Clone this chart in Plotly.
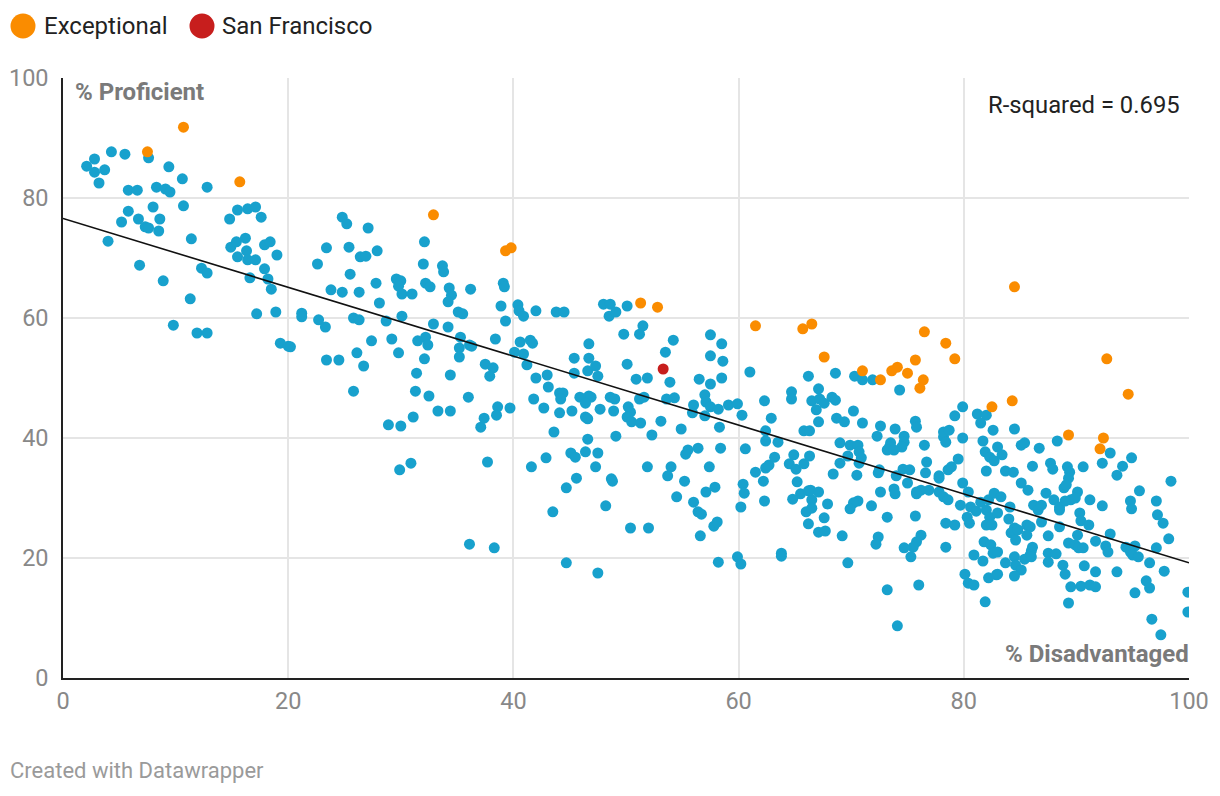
import plotly.graph_objects as go

# ---- data ----
blue_points = [
    (2.1,85.3),(2.8,86.5),(2.8,84.3),(3.7,84.7),(3.2,82.5),(4.3,87.7),(5.5,87.3),(7.6,86.7),(9.4,85.2),(10.6,83.2),
    (5.8,81.3),(6.6,81.3),(8.3,81.8),(9.1,81.5),(9.5,81),(12.8,81.8),(8.0,78.5),(10.7,78.7),(5.8,77.8),(5.2,76),
    (6.7,76.5),(8.6,76.5),(7.3,75.2),(7.6,75),(8.5,74.5),(4.0,72.8),(11.4,73.2),(6.8,68.8),(8.9,66.2),(12.3,68.3),
    (12.8,67.5),(11.3,63.2),(9.8,58.8),(11.9,57.5),(12.8,57.5),(14.8,76.5),(15.5,78),(16.4,78.2),(16.2,73.3),(14.9,71.8),
    (15.4,72.7),(15.5,70.2),(16.3,71.2),(16.4,69.7),(16.6,66.7),
    (17.1,78.5),(17.6,76.8),(17.9,72.2),(18.4,72.7),(19.0,70.5),(17.1,69.7),(17.9,68.2),(18.2,66.5),(18.5,64.8),(17.2,60.7),
    (18.9,61),(19.3,55.8),(20.0,55.3),(20.2,55.2),(21.2,60.8),(21.2,60.2),(22.7,59.7),(23.3,58.5),(22.6,69),(23.4,71.7),
    (24.8,76.8),(25.2,75.7),(27.1,75),(25.4,71.8),(26.4,70.2),(26.9,70.3),(27.9,71.2),(25.5,67.3),(23.8,64.7),(24.8,64.3),
    (26.3,64.3),(27.8,65.8),(28.1,62.5),(29.6,66.5),(30.0,66.2),(29.8,65.3),(30.1,64),(31.0,64),(32.1,72.7),(32.0,69),
    (32.2,65.8),(32.6,65.2),(25.8,60),(26.3,59.7),(28.7,59.5),(30.1,60.3),(32.9,59),(32.2,56.8),(31.5,56.2),(32.4,55.5),
    (29.2,56.5),(29.8,54.2),(27.4,56.2),(26.1,54.2),(26.7,52),(23.4,53),(24.5,53),(32.1,53.2),(31.4,50.8),(25.8,47.8),
    (31.3,47.8),(32.5,47),(33.3,44.5),(31.1,43.5),(28.9,42.2),(30.0,42),(29.9,34.7),(30.9,35.8),
    (33.7,68.7),(33.8,67.7),
    (34.3,65),(34.5,63.8),(34.2,62.7),(36.2,64.8),(39.1,65.8),(39.2,65.2),(38.9,62),(40.4,62.2),(40.5,61.2),(40.9,60.3),
    (42.0,61.2),(43.8,61),(44.5,61),(48.0,62.3),(48.6,62.3),(48.5,60.3),(49.1,61),(35.1,61),(35.5,60.7),(39.3,59.5),
    (34.2,58.5),(35.3,56.8),(36.1,55.5),(36.3,55.3),(35.2,55),(35.2,53.5),(38.4,56.5),(40.6,56),(41.5,56.3),(41.7,55.8),
    (40.1,54.3),(40.9,54),(41.2,52.2),(37.5,52.3),(38.2,51.7),(37.9,50.3),(34.4,50.5),(42.0,50),(43.0,50.5),(43.1,48.5),
    (45.4,53.3),(46.7,55.7),(46.7,53.3),(45.4,50.8),(46.6,51.2),(47.3,52),(47.5,50.3),(36.0,46.8),(38.6,45.2),(38.5,43.8),
    (39.7,45),(37.4,43.3),(37.1,41.8),(34.4,44.5),(41.8,46.5),(42.7,45),(44.1,47.5),(44.4,47.5),(44.2,46.5),(44.1,44.2),
    (45.2,44.5),(45.9,46.8),(46.7,47),(46.9,46.8),(46.4,45.8),(47.7,44.8),(46.4,43.5),(46.6,43.2),(48.6,46.8),(49.0,46.5),
    (48.9,44.5),(43.6,41),(46.6,39.8),(49.1,40.3),(37.7,36),(41.6,35.2),(42.9,36.7),(45.1,37.5),(45.5,36.8),(46.4,37.7),
    (47.5,37.5),(47.3,35.2),(45.6,33.3),(44.7,31.7),(48.7,33.2),(48.8,32.8),(43.5,27.7),(48.2,28.7),(36.1,22.3),(38.3,21.7),
    (44.7,19.2),(47.5,17.5),
    (50.1,62),(51.5,58.7),(49.8,57.3),(51.2,57.3),(54.2,56.3),(53.5,54.3),(50.1,52.3),(50.9,49.8),(51.9,50),(53.9,49.3),
    (51.2,46.5),(51.6,46.8),(53.6,46.5),(54.3,46.7),(50.2,45.2),(50.4,44.3),(50.1,43.5),(50.5,42.7),(51.3,42.5),(53.1,42.8),
    (52.3,40.5),(54.9,41.5),(57.5,57.2),(58.5,55.7),(57.5,53.7),(58.6,52.8),(56.5,49.8),(57.5,49),(58.5,50),(57.0,47.2),
    (57.1,46),(57.5,45.2),(58.2,44.8),(56.0,45.5),(55.9,44.2),(57.0,43.7),(59.1,45.5),(59.9,45.7),(60.3,43.8),(58.3,41.8),
    (61.0,51),(62.3,46.2),(62.9,43.3),(62.4,41.2),(62.4,39.5),(63.5,39.3),(64.7,47.7),(64.7,46.5),(66.2,50.3),(65.8,41.2),
    (66.3,41.2),(66.5,46.2),(55.5,38),(55.3,37.3),(56.4,38.3),(58.4,38.3),(60.6,38.2),(51.9,35.2),(54.0,35.2),(53.7,33.7),
    (55.2,32.8),(57.4,35.2),(54.5,30.2),(57.1,31),(57.9,31.8),(56.0,29.3),(56.4,27.7),(56.7,27.3),(57.8,25.3),(58.1,26),
    (56.6,23.7),(50.4,25),(52.0,25),(60.4,32.3),(60.5,30.8),(60.2,28.5),(61.5,34.3),(62.2,32.8),(62.4,35),(62.7,35.5),
    (63.2,36.8),(62.3,29.5),(64.5,35.7),(65.1,34.8),(64.9,37.2),(65.8,35.7),(65.2,32.7),(65.5,30.7),(66.2,31.2),(64.8,29.8),
    (66.0,27.7),(66.2,25.7),(58.2,19.3),(59.9,20.2),(60.2,19),(63.8,20.8),(63.8,20.3),(66.3,37),(66.5,29.7),(66.5,28.3),
    (68.6,50.8),(70.3,50.3),(71.0,49.7),(71.9,49.7),(74.3,48),(67.1,48.2),(67.2,46.5),(67.6,45.8),(66.9,44.7),(68.3,46.8),
    (68.6,46.3),(70.2,44.5),(68.7,43.3),(69.4,42.7),(67.1,42.7),(71.0,42.5),(72.6,42),(73.9,41.5),(72.3,40.3),(74.7,40.3),
    (74.7,39.3),(74.5,38.5),(75.7,42.8),(75.8,41.8),(73.5,39.2),(73.4,38.5),(73.2,38),(73.8,38),(76.5,38.8),(69.0,39.2),
    (69.9,38.8),(70.6,38.8),(70.7,37.7),(70.9,36.7),(70.7,35.8),(69.7,37),(69.0,35.8),(68.4,34),(70.5,33.8),(72.4,34.2),
    (72.5,34.7),(74.0,33.7),(74.6,34.8),(75.2,34.7),(75.0,32.5),(76.7,36),(76.6,34.2),(77.8,33.7),(77.8,33.3),(78.2,40.2),
    (78.2,41),(78.4,39.3),(78.7,41.3),(79.2,43.7),(79.9,45.2),(79.9,40),(78.6,34.7),(78.9,35.2),(79.5,36.5),(79.9,32.5),
    (81.2,44),(82.0,43.8),(81.5,42.5),(82.6,41.3),(81.7,39.5),(81.9,37.7),(82.3,36.8),(82.7,36.2),(82.0,34.5),(66.4,31.3),
    (67.1,31),(67.9,29),(67.6,26.7),(67.1,24.3),(67.7,24.5),(69.2,23.7),(69.7,19.2),(70.6,29.5),(70.2,29.2),(69.9,28.2),
    (71.8,28.7),(72.6,31),(73.8,31.5),(73.9,30.7),(73.2,26.8),(72.4,23.5),(72.2,22.3),(75.7,27),(73.2,14.7),(74.1,8.7),
    (75.8,31),(76.2,31.3),(76.9,31.3),(75.8,30.7),(76.2,23.8),(75.8,22.7),(75.5,21.8),(75.3,20.2),(74.7,21.7),(76.0,15.5),
    (77.8,31),(78.2,30.2),(78.6,29.7),(78.4,25.8),(79.2,25.5),(78.4,21.8),(80.4,31),(79.7,28.8),(80.6,28.5),(81.1,27.8),
    (80.3,26.8),(80.5,25.8),(81.5,29.3),(82.2,29.7),(82.7,30.8),(82.0,28),(82.3,26.8),(82.0,25.5),(82.5,25.5),(81.8,22.7),
    (82.4,22.2),(82.6,20.8),(80.9,20.5),(81.7,19.5),(80.1,17.3),(80.4,15.8),(80.9,15.5),(82.2,16.7),(82.9,17.2),(81.9,12.7),
    (84.5,41.5),(85.1,38.8),(85.4,39.2),(86.7,38.3),(88.3,39.5),(83.0,38.5),(83.4,37.2),(83.7,34.5),(84.4,34.3),(86.1,35.3),
    (87.7,35.8),(87.9,34.8),(89.2,35.2),(89.4,34.3),(89.3,33.3),(90.6,35.2),(92.3,35.8),(93.0,37.5),(94.9,36.7),(94.1,35.3),
    (93.6,33.8),(98.4,32.8),(85.1,32.5),(85.7,31.3),(83.3,30.2),(87.3,30.8),(88.0,29.7),(88.9,31.7),(89.1,32.2),(90.1,31),
    (91.2,29.7),(89.5,29.7),(89.9,30),(89.0,29.5),(92.3,28.7),(95.6,31.2),(97.1,29.5),(94.8,29.5),(94.9,28.2),(97.2,27.2),
    (97.7,25.8),(98.2,23.2),(83.0,27.5),(84.1,28.5),(84.0,26.5),(84.5,25),(84.2,24.2),(84.6,23),(84.8,24.7),(85.6,25.5),
    (85.9,25.2),(85.6,23.8),(86.2,28.8),(86.6,28),(86.9,28.8),(86.9,26),(87.5,23.7),(86.1,21.8),(86.0,21.2),(85.9,20.5),
    (88.5,28.5),(88.5,28),(88.5,25.2),(87.5,20.8),(88.2,20.7),(87.5,19.3),(89.3,22.5),(89.9,22.2),(90.2,21.7),(90.6,21.7),
    (90.1,23.8),(90.3,27.5),(90.4,26.2),(91.1,25.5),(91.7,22.8),(92.6,22),(92.8,21),(93.0,24),(94.4,21.8),(94.8,21),
    (95.2,22),(95.0,20.5),(95.5,20.2),(97.1,21.7),(97.8,17.8),(96.5,19.2),(93.6,17.7),(91.7,17.7),(83.0,21),(83.0,17.3),
    (83.7,19.2),(84.5,20.2),(84.6,18.8),(85.1,18),(84.5,17),(85.4,19.8),(86.0,20.2),(88.8,18.8),(89.0,17.3),(90.7,18.7),
    (89.5,15.2),(90.4,15.3),(91.2,15.5),(91.7,15.2),(89.3,12.5),(96.2,16.2),(96.5,15),(95.2,14.2),(96.7,9.8),(97.5,7.2),
    (99.9,14.3),(99.9,11),
]
blue_x = [p[0] for p in blue_points]
blue_y = [p[1] for p in blue_points]

exceptional_x = [10.7, 7.5, 15.7, 32.9, 39.3, 39.8, 51.3, 52.8, 61.5, 65.7, 66.5, 67.6, 71.0, 72.6, 73.6, 74.1,
                 75.0, 75.7, 76.5, 76.4, 76.1, 78.4, 79.2, 82.5, 84.5, 92.7, 94.6, 84.3, 89.3, 92.4, 92.1]
exceptional_y = [91.8, 87.7, 82.7, 77.2, 71.2, 71.7, 62.5, 61.8, 58.7, 58.2, 59.0, 53.5, 51.2, 49.7, 51.2, 51.8,
                 50.8, 53.0, 57.7, 49.7, 48.3, 55.8, 53.2, 45.2, 65.2, 53.2, 47.3, 46.2, 40.5, 40.0, 38.2]

sf_x = [53.3]
sf_y = [51.5]

reg_intercept = 76.6
reg_slope = -0.574
reg_x = [0, 100]
reg_y = [reg_intercept + reg_slope * v for v in reg_x]

tick_vals = [0, 20, 40, 60, 80, 100]
tick_text = ["0", "20", "40", "60", "80", "100"]

BLUE = "#18a1cd"
ORANGE = "#fa8c00"
RED = "#c71e1d"
FONT = "Roboto, Noto Sans, sans-serif"

fig = go.Figure()
fig.add_trace(go.Scatter(x=blue_x, y=blue_y, mode="markers", name="Schools",
                         marker=dict(color=BLUE, size=11, line=dict(width=0)), showlegend=False, hoverinfo="skip"))
fig.add_trace(go.Scatter(x=reg_x, y=reg_y, mode="lines", line=dict(color="#111111", width=1.6),
                         showlegend=False, hoverinfo="skip"))
fig.add_trace(go.Scatter(x=exceptional_x, y=exceptional_y, mode="markers", name="Exceptional",
                         marker=dict(color=ORANGE, size=11, line=dict(width=0)), showlegend=False))
fig.add_trace(go.Scatter(x=sf_x, y=sf_y, mode="markers", name="San Francisco",
                         marker=dict(color=RED, size=11, line=dict(width=0)), showlegend=False))

# page body adds an 8px offset; compensate so the screenshot lines up
OFF = 8
W, H = 1220, 796
L, T = 63 - OFF, 78 - OFF
R = W - (1189 - OFF)
B = H - (678 - OFF)
pw, ph = W - L - R, H - T - B

def px(xp):
    return (xp - OFF - L) / pw

def py(yp):
    return (H - B - (yp - OFF)) / ph

shapes = []
annotations = []
# legend
for cx, color, label, tx in [(23, ORANGE, "Exceptional", 42), (202, RED, "San Francisco", 220)]:
    shapes.append(dict(type="circle", xref="paper", yref="paper", xsizemode="pixel", ysizemode="pixel",
                       xanchor=px(cx), yanchor=py(26), x0=-12.5, x1=12.5, y0=-12.5, y1=12.5,
                       fillcolor=color, line=dict(width=0)))
    annotations.append(dict(xref="paper", yref="paper", x=px(tx), y=py(26), text=label, showarrow=False,
                            xanchor="left", yanchor="middle", font=dict(family=FONT, size=24, color="#222222")))

annotations += [
    dict(xref="paper", yref="paper", x=px(73), y=py(92), text="<b>% Proficient</b>", showarrow=False,
         xanchor="left", yanchor="middle", font=dict(family=FONT, size=24, color="#7a7a7a")),
    dict(xref="paper", yref="paper", x=px(1191), y=py(654), text="<b>% Disadvantaged</b>", showarrow=False,
         xanchor="right", yanchor="middle", font=dict(family=FONT, size=24, color="#7a7a7a")),
    dict(xref="paper", yref="paper", x=px(1182), y=py(105), text="R-squared = 0.695", showarrow=False,
         xanchor="right", yanchor="middle", font=dict(family=FONT, size=23.8, color="#222222")),
    dict(xref="paper", yref="paper", x=px(8), y=py(770), text="Created with Datawrapper", showarrow=False,
         xanchor="left", yanchor="middle", font=dict(family=FONT, size=22, color="#9a9a9a")),
]

fig.update_layout(
    width=W, height=H,
    margin=dict(l=L, r=R, t=T, b=B, autoexpand=False),
    paper_bgcolor="white", plot_bgcolor="white",
    font=dict(family=FONT),
    shapes=shapes, annotations=annotations,
    showlegend=False,
)
fig.update_xaxes(range=[0, 100], tickvals=tick_vals, ticktext=tick_text, showgrid=True, gridcolor="#e5e5e5",
                 gridwidth=1.5, zeroline=False, showline=True, linecolor="#222222", linewidth=1.5,
                 ticks="", ticklabelstandoff=1, tickfont=dict(family=FONT, size=23.5, color="#888888"))
fig.update_yaxes(range=[0, 100], tickvals=tick_vals, ticktext=tick_text, showgrid=True, gridcolor="#e5e5e5",
                 gridwidth=1.5, zeroline=False, showline=True, linecolor="#222222", linewidth=1.5,
                 ticks="", ticklabelstandoff=8, tickfont=dict(family=FONT, size=23.5, color="#888888"))

fig.write_html("out.html")
